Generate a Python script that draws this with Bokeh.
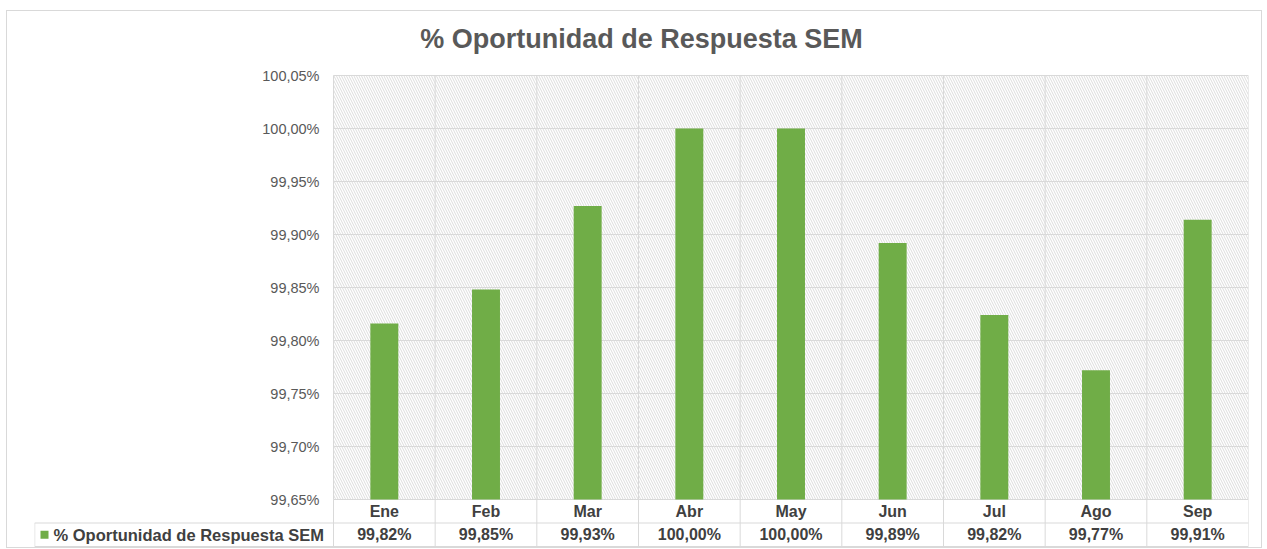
from bokeh.plotting import figure
from bokeh.models import Range1d, FixedTicker, CustomJSTickFormatter, BoxAnnotation
from bokeh.core.properties import value
from bokeh.embed import file_html
from bokeh.resources import INLINE

# ---------------- data ----------------
TITLE = "% Oportunidad de Respuesta SEM"
SERIES = "% Oportunidad de Respuesta SEM"
MONTHS = ["Ene", "Feb", "Mar", "Abr", "May", "Jun", "Jul", "Ago", "Sep"]
VALUES = [99.816, 99.848, 99.927, 100.0, 100.0, 99.892, 99.824, 99.772, 99.914]
Y_TICKS = [99.65, 99.70, 99.75, 99.80, 99.85, 99.90, 99.95, 100.00, 100.05]

# ---------------- style / layout ----------------
FONT = "Liberation Sans"
GREEN = "#70AD47"
GRID = "#d9d9d9"
TXT_GREY = "#595959"
TXT_DARK = "#404040"

W, H = 1256, 538
BL, BR, BT, BB = 27, 15, 52, 1
frame_w = W - BL - BR
frame_h = H - BT - BB
PLOT_LEFT_PX = 299          # legend cell width, left of the plot area
ROW_PX = 23.5               # height of a data-table row
BOTTOM_PAD_PX = 2
TOP_PAD_PX = 12

N = len(MONTHS)
Y_MIN, Y_MAX = Y_TICKS[0], Y_TICKS[-1]
unit = (frame_w - PLOT_LEFT_PX) / N
x_start = -PLOT_LEFT_PX / unit
plot_h_px = frame_h - 2 * ROW_PX - BOTTOM_PAD_PX - TOP_PAD_PX
ypp = (Y_MAX - Y_MIN) / plot_h_px
y_start = Y_MIN - (2 * ROW_PX + BOTTOM_PAD_PX) * ypp
y_end = Y_MAX + TOP_PAD_PX * ypp

p = figure(width=W, height=H, output_backend="svg", toolbar_location=None,
           x_range=Range1d(x_start, N), y_range=Range1d(y_start, y_end),
           x_axis_location=None, min_border_left=BL, min_border_right=BR,
           min_border_top=BT, min_border_bottom=BB)
p.extra_y_ranges = {"tbl": Range1d(-BOTTOM_PAD_PX / ROW_PX, (frame_h - BOTTOM_PAD_PX) / ROW_PX)}
p.outline_line_color = None
p.grid.visible = False
p.styles = {"border": "1px solid #d9d9d9", "margin-left": "6px", "margin-top": "10px"}

# title
p.title.text = TITLE
p.title.align = "center"
p.title.offset = -9.5
p.title.standoff = 20
p.title.text_font = FONT
p.title.text_font_size = "27px"
p.title.text_font_style = "bold"
p.title.text_color = TXT_GREY

# y axis at the left edge of the plot area
ya = p.yaxis[0]
ya.fixed_location = 0
ya.ticker = FixedTicker(ticks=Y_TICKS)
ya.formatter = CustomJSTickFormatter(code="return tick.toFixed(2).replace('.', ',') + '%';")
ya.axis_line_color = None
ya.major_tick_line_color = None
ya.minor_tick_line_color = None
ya.major_tick_out = 0
ya.major_tick_in = 0
ya.major_label_standoff = 14
ya.major_label_text_font = FONT
ya.major_label_text_font_size = "14.5px"
ya.major_label_text_color = TXT_GREY

# hatched plot-area background
p.add_layout(BoxAnnotation(left=0, right=N, bottom=Y_MIN, top=Y_MAX,
                           fill_color="white", fill_alpha=1.0,
                           hatch_pattern="\\", hatch_color="#dcdcdc",
                           hatch_scale=5, hatch_weight=1,
                           line_color=None, level="underlay"))

# grid lines
p.segment(x0=[0] * len(Y_TICKS), x1=[N] * len(Y_TICKS), y0=Y_TICKS, y1=Y_TICKS,
          line_color=GRID, line_width=1)
p.segment(x0=list(range(N + 1)), x1=list(range(N + 1)),
          y0=[Y_MIN] * (N + 1), y1=[Y_MAX] * (N + 1), line_color=GRID, line_width=1)

# bars
centers = [i + 0.5 for i in range(N)]
p.vbar(x=centers, top=VALUES, bottom=Y_MIN, width=0.275, fill_color=GREEN, line_color=None)

# data table
p.segment(x0=list(range(N + 1)), x1=list(range(N + 1)), y0=[0] * (N + 1), y1=[2] * (N + 1),
          line_color=GRID, line_width=1, y_range_name="tbl")
p.segment(x0=[x_start, x_start + 0.002], x1=[N, x_start + 0.002], y0=[1, 0], y1=[1, 1],
          line_color=GRID, line_width=1, y_range_name="tbl")
p.segment(x0=[x_start], x1=[N], y0=[0], y1=[0], line_color=GRID, line_width=1, y_range_name="tbl")

p.text(x=centers, y=[1.5] * N, text=MONTHS, text_font=value(FONT), text_font_size="16px",
       text_font_style="bold", text_color=TXT_DARK, text_align="center",
       text_baseline="middle", y_range_name="tbl")
labels = [f"{v:.2f}".replace(".", ",") + "%" for v in VALUES]
p.text(x=centers, y=[0.5] * N, text=labels, text_font=value(FONT), text_font_size="16px",
       text_font_style="bold", text_color=TXT_DARK, text_align="center",
       text_baseline="middle", y_range_name="tbl")

# legend key in the table
p.scatter(x=[x_start + 10 / unit], y=[0.5], marker="square", size=8,
          fill_color=GREEN, line_color=None, y_range_name="tbl")
p.text(x=[x_start + 19 / unit], y=[0.5], text=[SERIES], text_font=value(FONT),
       text_font_size="16.5px", text_font_style="bold", text_color=TXT_DARK,
       text_align="left", text_baseline="middle", y_range_name="tbl")

open("out.html", "w").write(file_html(p, INLINE))
